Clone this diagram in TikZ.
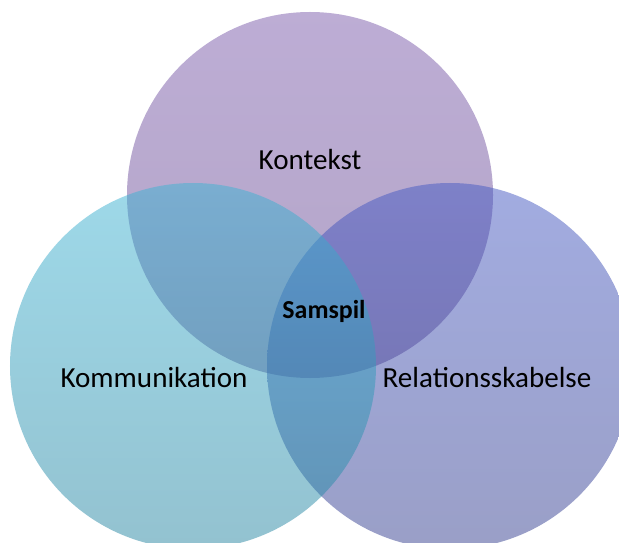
\documentclass[tikz,border=0pt]{standalone}
\usepackage{fontspec}
\setmainfont{Carlito}
\begin{document}
\begin{tikzpicture}[x=1bp,y=-1bp]
	\tikzstyle{c} = [circle, minimum size=366bp, inner sep=0pt, fill opacity=0.5]
	\tikzstyle{t} = [font=\fontsize{29.2}{35}\selectfont, text=black]
	\useasboundingbox (0,0) rectangle (619,543);
	% the three sets, drawn top, right, left
	\node[c, top color={rgb,255:red,123;green,91;blue,171}, bottom color={rgb,255:red,103;green,75;blue,143}] (kontekst) at (310,195) {};
	\node[c, top color={rgb,255:red,69;green,89;blue,195}, bottom color={rgb,255:red,53;green,63;blue,143}] (relation) at (450,366) {};
	\node[c, top color={rgb,255:red,61;green,179;blue,211}, bottom color={rgb,255:red,39;green,133;blue,161}] (kommunikation) at (193,366) {};
	% labels
	\node[t] (l-kontekst) at (310,160) {Kontekst};
	\node[t] (l-kommunikation) at (154,378) {Kommunikation};
	\node[t] (l-relation) at (487,378) {Relationsskabelse};
	\node[font=\fontsize{26}{31}\selectfont\bfseries] (samspil) at (324,311) {Samspil};
\end{tikzpicture}
\end{document}
